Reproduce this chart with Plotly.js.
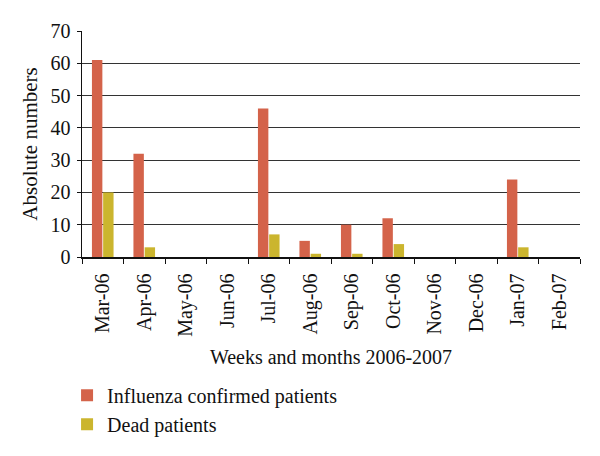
<!DOCTYPE html>
<html>
<head>
<meta charset="utf-8">
<script src="https://cdn.plot.ly/plotly-3.0.1.min.js"></script>
<style>html,body{margin:0;padding:0;background:#fff;}#chart{width:600px;height:456px;}</style>
</head>
<body>
<div id="chart"></div>
<script>
var months = ["Mar-06","Apr-06","May-06","Jun-06","Jul-06","Aug-06","Sep-06","Oct-06","Nov-06","Dec-06","Jan-07","Feb-07"];
var influenzaConfirmed = [61, 32, 0, 0, 46, 5, 10, 12, 0, 0, 24, 0];
var deadPatients = [20, 3, 0, 0, 7, 1, 1, 4, 0, 0, 3, 0];
var yTicks = [0, 10, 20, 30, 40, 50, 60, 70];

var fontFam = "Liberation Serif, DejaVu Serif, serif";
var traces = [
  {type:"bar", name:"Influenza confirmed patients", x:months, y:influenzaConfirmed,
   legendgroup:"a",
   marker:{color:"#D4634A", line:{width:0}}},
  {type:"bar", name:"Dead patients", x:months, y:deadPatients,
   legendgroup:"b",
   marker:{color:"#CBB52E", line:{width:0}}}
];
var layout = {
  width:600, height:456,
  margin:{l:82, r:20, t:31, b:196},
  paper_bgcolor:"#fff", plot_bgcolor:"#fff",
  font:{family:fontFam, size:20, color:"#111"},
  barmode:"group", bargap:0.46, bargroupgap:0.07,
  showlegend:true,
  legend:{x:-0.03, y:-0.525, xanchor:"left", yanchor:"top", orientation:"v",
          font:{family:fontFam, size:20, color:"#111"}, tracegroupgap:0, bgcolor:"rgba(0,0,0,0)"},
  xaxis:{type:"category", tickangle:-90, tickson:"boundaries", ticks:"outside", ticklen:5,
         tickcolor:"#111", showline:true, linecolor:"#111", linewidth:1.5, showgrid:false,
         ticklabelstandoff:7,
         tickfont:{family:fontFam, size:20, color:"#111"},
         title:{text:"Weeks and months 2006-2007", font:{family:fontFam, size:20, color:"#111"}, standoff:14},
         fixedrange:true},
  yaxis:{range:[0,70], tickvals:yTicks, ticks:"outside", ticklen:4, tickcolor:"#111",
         showline:true, linecolor:"#111", linewidth:1.5, showgrid:true, gridcolor:"#333", gridwidth:1,
         zeroline:false, ticklabelstandoff:2,
         tickfont:{family:fontFam, size:20, color:"#111"},
         title:{text:"Absolute numbers", font:{family:fontFam, size:21, color:"#111"}, standoff:7},
         fixedrange:true}
};
Plotly.newPlot("chart", traces, layout, {displayModeBar:false, staticPlot:true});
</script>
</body>
</html>
